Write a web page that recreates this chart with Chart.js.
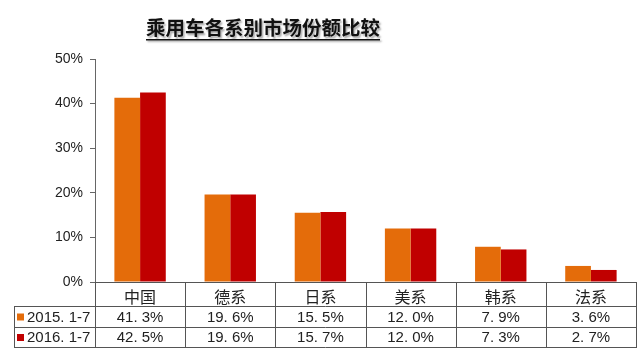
<!DOCTYPE html>
<html>
<head>
<meta charset="utf-8">
<script src="https://cdn.jsdelivr.net/npm/chart.js@4/dist/chart.umd.min.js"></script>
<style>
  html, body { margin: 0; padding: 0; background: #fff; }
  #c { display: block; }
</style>
</head>
<body>
<canvas id="c" width="643" height="354"></canvas>
<script>
const chartTitle = '乘用车各系别市场份额比较';
const categories = ['中国', '德系', '日系', '美系', '韩系', '法系'];
const seriesNames = ['2015. 1-7', '2016. 1-7'];
const share2015 = [41.3, 19.6, 15.5, 12.0, 7.9, 3.6];
const share2016 = [42.5, 19.6, 15.7, 12.0, 7.3, 2.7];
const yMax = 50;
const yStep = 10;

const ORANGE = '#E46C0A';
const RED = '#C00000';
const FONT = 'Arial, "Liberation Sans", "Noto Sans CJK SC", sans-serif';
const CJK = '"Noto Sans CJK SC", sans-serif';

function fmt(v) { return v.toFixed(1).replace('.', '. ') + '%'; }

const tablePlugin = {
  id: 'tablePlugin',
  afterDraw(chart) {
    const ctx = chart.ctx;
    const area = chart.chartArea;
    const xs = chart.scales.x;
    const n = categories.length;
    const catW = (area.right - area.left) / n;
    const tableLeft = 14;
    const rowTop1 = 306, rowTop2 = 327, tableBottom = 347;
    ctx.save();
    ctx.strokeStyle = '#555';
    ctx.lineWidth = 1;
    ctx.beginPath();
    for (let i = 0; i <= n; i++) {
      const xp = Math.round(area.left + i * catW) + 0.5;
      ctx.moveTo(xp, area.bottom);
      ctx.lineTo(xp, tableBottom);
    }
    ctx.moveTo(tableLeft + 0.5, rowTop1);
    ctx.lineTo(tableLeft + 0.5, tableBottom);
    [rowTop1, rowTop2, tableBottom].forEach(y => {
      ctx.moveTo(tableLeft, y + 0.5);
      ctx.lineTo(Math.round(area.right) + 1, y + 0.5);
    });
    ctx.stroke();

    const rows = [share2015, share2016];
    const colors = [ORANGE, RED];
    const centers = [(rowTop1 + rowTop2) / 2 + 1, (rowTop2 + tableBottom) / 2 + 1];
    ctx.textBaseline = 'middle';
    rows.forEach((vals, r) => {
      ctx.fillStyle = colors[r];
      ctx.fillRect(tableLeft + 3, centers[r] - 4, 7, 7);
      ctx.fillStyle = '#222';
      ctx.font = '15px ' + FONT;
      ctx.textAlign = 'left';
      ctx.fillText(seriesNames[r], tableLeft + 13, centers[r]);
      ctx.textAlign = 'center';
      vals.forEach((v, i) => {
        ctx.fillText(fmt(v), xs.getPixelForValue(i), centers[r]);
      });
    });
    ctx.restore();

    // title
    ctx.save();
    ctx.font = 'bold 19.5px ' + CJK;
    ctx.textAlign = 'center';
    ctx.textBaseline = 'middle';
    const tx = 263, ty = 28;
    ctx.shadowColor = 'rgba(0,0,0,0.35)';
    ctx.shadowOffsetX = 1.5;
    ctx.shadowOffsetY = 1.5;
    ctx.shadowBlur = 2;
    ctx.fillStyle = '#111';
    ctx.fillText(chartTitle, tx, ty);
    const w = ctx.measureText(chartTitle).width;
    ctx.fillRect(tx - w / 2, ty + 11, w, 1.5);
    ctx.restore();
  }
};

new Chart(document.getElementById('c'), {
  type: 'bar',
  data: {
    labels: categories,
    datasets: [
      { label: seriesNames[0], data: share2015, backgroundColor: ORANGE, categoryPercentage: 0.57, barPercentage: 1 },
      { label: seriesNames[1], data: share2016, backgroundColor: RED, categoryPercentage: 0.57, barPercentage: 1 }
    ]
  },
  options: {
    responsive: false,
    devicePixelRatio: 1,
    animation: false,
    layout: { padding: { top: 59, right: 7, bottom: 0, left: 0 } },
    plugins: { legend: { display: false }, title: { display: false }, tooltip: { enabled: false } },
    scales: {
      x: {
        grid: { display: false },
        border: { display: true, color: '#555', width: 1 },
        ticks: { color: '#222', font: { size: 16, family: CJK }, padding: -3, maxRotation: 0 },
        afterFit(s) { s.height = 72; }
      },
      y: {
        min: 0, max: yMax,
        grid: { display: true, drawOnChartArea: false, drawTicks: true, tickLength: 5, color: '#666' },
        border: { display: true, color: '#666', width: 1 },
        ticks: { stepSize: yStep, color: '#222', font: { size: 14, family: FONT }, padding: 7,
                 callback: v => v + '%' },
        afterFit(s) { s.width = 95; }
      }
    }
  },
  plugins: [tablePlugin]
});
</script>
</body>
</html>
